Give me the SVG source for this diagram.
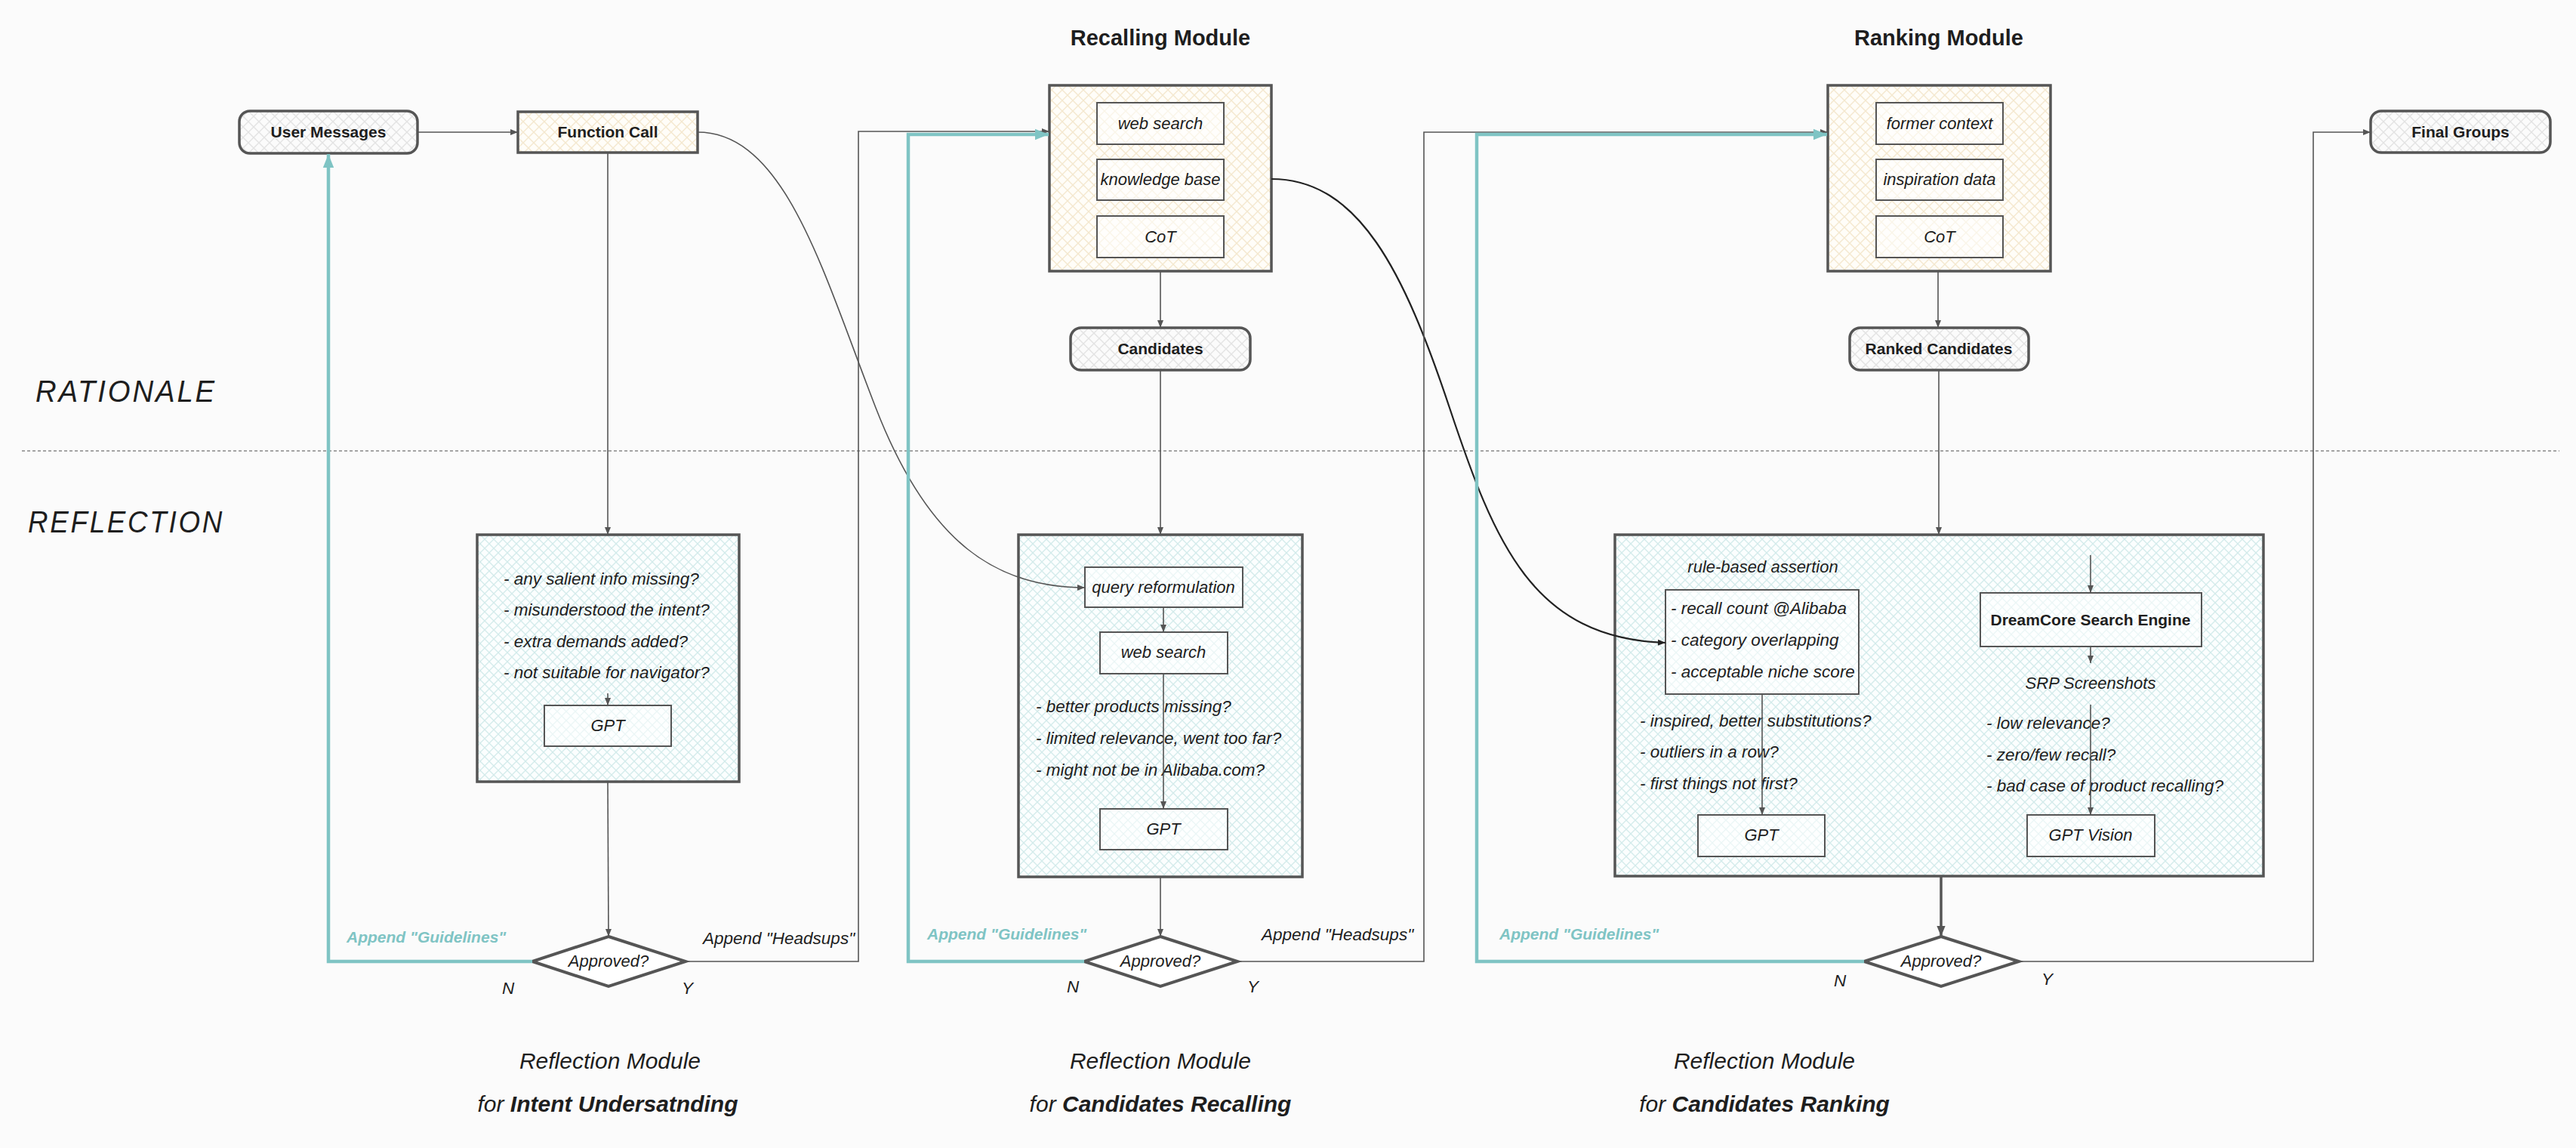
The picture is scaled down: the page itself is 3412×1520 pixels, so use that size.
<svg xmlns="http://www.w3.org/2000/svg" width="3412" height="1520" viewBox="0 0 3412 1520">
<style>
text{font-family:"Liberation Sans",Arial,sans-serif;fill:#1e1e1e}
.lbl{font-size:21px;font-weight:bold;text-anchor:middle}
.t{font-size:22.5px;font-style:italic}
.tc{font-size:22px;font-style:italic;text-anchor:middle}
.title{font-size:29px;font-weight:bold;text-anchor:middle}
.side{font-size:40px;font-style:italic;letter-spacing:3px}
.foot{font-size:30px;font-style:italic;text-anchor:middle}
.teal{fill:#7fc4c4;font-weight:bold;font-size:21px;font-style:italic}
.box{stroke:#555;stroke-width:3.5}
.inner{stroke:#555;stroke-width:2;fill:#ffffff;fill-opacity:0.55}
.c{fill:none;stroke:#555;stroke-width:1.6}
.ct{fill:none;stroke:#7fc4c4;stroke-width:4.5}
.dia{fill:#ffffff;stroke:#555;stroke-width:4}
</style>
<defs>
<pattern id="hg" width="14" height="14" patternUnits="userSpaceOnUse"><rect width="14" height="14" fill="#fbfbfb"/><path d="M0,0 L14,14 M14,0 L0,14" stroke="#e3e3e3" stroke-width="1.4"/></pattern>
<pattern id="hb" width="14" height="14" patternUnits="userSpaceOnUse"><rect width="14" height="14" fill="#fffdf8"/><path d="M0,0 L14,14 M14,0 L0,14" stroke="#f4e8cf" stroke-width="1.4"/></pattern>
<pattern id="ht" width="12" height="12" patternUnits="userSpaceOnUse"><rect width="12" height="12" fill="#fbfefe"/><path d="M0,0 L12,12 M12,0 L0,12" stroke="#d3ebeb" stroke-width="1.3"/></pattern>
<marker id="ag" viewBox="0 0 10 10" refX="10" refY="5" markerWidth="13" markerHeight="10" markerUnits="userSpaceOnUse" orient="auto"><path d="M0,1 L10,5 L0,9 z" fill="#555"/></marker>
<marker id="agb" viewBox="0 0 10 10" refX="10" refY="5" markerWidth="18" markerHeight="14" markerUnits="userSpaceOnUse" orient="auto"><path d="M0,1 L10,5 L0,9 z" fill="#555"/></marker>
<marker id="ak" viewBox="0 0 10 10" refX="10" refY="5" markerWidth="13" markerHeight="10" markerUnits="userSpaceOnUse" orient="auto"><path d="M0,1 L10,5 L0,9 z" fill="#222"/></marker>
<marker id="at" viewBox="0 0 10 10" refX="10" refY="5" markerWidth="22" markerHeight="18" markerUnits="userSpaceOnUse" orient="auto"><path d="M0,1 L10,5 L0,9 z" fill="#7fc4c4"/></marker>
</defs>
<rect width="3412" height="1520" fill="#fbfbfb"/>

<g id="section-labels">
<text class="side" x="47" y="532" textLength="240" lengthAdjust="spacingAndGlyphs">RATIONALE</text>
<text class="side" x="37" y="705" textLength="260" lengthAdjust="spacingAndGlyphs">REFLECTION</text>
<line x1="29" y1="597" x2="3390" y2="597" stroke="#888" stroke-width="1.5" stroke-dasharray="4 3"/>
<text class="title" x="1537" y="60">Recalling Module</text>
<text class="title" x="2568" y="60">Ranking Module</text>
<text class="foot" x="808" y="1415">Reflection Module</text>
<text class="foot" x="805" y="1472">for <tspan font-weight="bold">Intent Undersatnding</tspan></text>
<text class="foot" x="1537" y="1415">Reflection Module</text>
<text class="foot" x="1537" y="1472">for <tspan font-weight="bold">Candidates Recalling</tspan></text>
<text class="foot" x="2337" y="1415">Reflection Module</text>
<text class="foot" x="2337" y="1472">for <tspan font-weight="bold">Candidates Ranking</tspan></text>
</g>

<g id="user-messages">
<rect class="box" x="317" y="147" width="236" height="56" rx="14" fill="url(#hg)"/>
<text class="lbl" x="435" y="182">User Messages</text>
</g>
<g id="function-call">
<rect class="box" x="686" y="148" width="238" height="54" fill="url(#hb)"/>
<text class="lbl" x="805" y="182">Function Call</text>
</g>
<g id="final-groups">
<rect class="box" x="3140" y="147" width="238" height="55" rx="14" fill="url(#hg)"/>
<text class="lbl" x="3259" y="182">Final Groups</text>
</g>

<g id="recalling-module">
<rect class="box" x="1390" y="113" width="294" height="246" fill="url(#hb)"/>
<rect class="inner" x="1453" y="136" width="168" height="55"/>
<text class="tc" x="1537" y="171">web search</text>
<rect class="inner" x="1453" y="211" width="168" height="54"/>
<text class="tc" x="1537" y="245">knowledge base</text>
<rect class="inner" x="1453" y="286" width="168" height="55"/>
<text class="tc" x="1537" y="321">CoT</text>
</g>
<g id="candidates">
<rect class="box" x="1418" y="434" width="238" height="56" rx="14" fill="url(#hg)"/>
<text class="lbl" x="1537" y="469">Candidates</text>
</g>

<g id="ranking-module">
<rect class="box" x="2421" y="113" width="295" height="246" fill="url(#hb)"/>
<rect class="inner" x="2485" y="136" width="168" height="55"/>
<text class="tc" x="2569" y="171">former context</text>
<rect class="inner" x="2485" y="211" width="168" height="54"/>
<text class="tc" x="2569" y="245">inspiration data</text>
<rect class="inner" x="2485" y="286" width="168" height="55"/>
<text class="tc" x="2569" y="321">CoT</text>
</g>
<g id="ranked-candidates">
<rect class="box" x="2450" y="434" width="237" height="56" rx="14" fill="url(#hg)"/>
<text class="lbl" x="2568" y="469">Ranked Candidates</text>
</g>

<g id="reflection-intent">
<rect class="box" x="632" y="708" width="347" height="327" fill="url(#ht)"/>
<text class="t" x="667" y="774">- any salient info missing?</text>
<text class="t" x="667" y="815">- misunderstood the intent?</text>
<text class="t" x="667" y="857">- extra demands added?</text>
<text class="t" x="667" y="898">- not suitable for navigator?</text>
<rect class="inner" x="721" y="934" width="168" height="54"/>
<text class="tc" x="805" y="968">GPT</text>
</g>

<g id="reflection-recalling">
<rect class="box" x="1349" y="708" width="376" height="453" fill="url(#ht)"/>
<rect class="inner" x="1437" y="751" width="209" height="53"/>
<text class="tc" x="1541" y="785">query reformulation</text>
<rect class="inner" x="1457" y="837" width="169" height="55"/>
<text class="tc" x="1541" y="871">web search</text>
<text class="t" x="1372" y="943">- better products missing?</text>
<text class="t" x="1372" y="985">- limited relevance, went too far?</text>
<text class="t" x="1372" y="1027">- might not be in Alibaba.com?</text>
<rect class="inner" x="1457" y="1071" width="169" height="54"/>
<text class="tc" x="1541" y="1105">GPT</text>
</g>

<g id="reflection-ranking">
<rect class="box" x="2139" y="708" width="859" height="452" fill="url(#ht)"/>
<text class="tc" x="2335" y="758">rule-based assertion</text>
<rect class="inner" x="2206" y="781" width="256" height="138"/>
<text class="t" x="2213" y="813">- recall count @Alibaba</text>
<text class="t" x="2213" y="855">- category overlapping</text>
<text class="t" x="2213" y="897">- acceptable niche score</text>
<text class="t" x="2172" y="962">- inspired, better substitutions?</text>
<text class="t" x="2172" y="1003">- outliers in a row?</text>
<text class="t" x="2172" y="1045">- first things not first?</text>
<rect class="inner" x="2249" y="1079" width="168" height="55"/>
<text class="tc" x="2333" y="1113">GPT</text>
<rect class="inner" x="2623" y="785" width="293" height="71"/>
<text class="lbl" x="2769" y="828">DreamCore Search Engine</text>
<text class="tc" x="2769" y="912">SRP Screenshots</text>
<text class="t" x="2631" y="965">- low relevance?</text>
<text class="t" x="2631" y="1007">- zero/few recall?</text>
<text class="t" x="2631" y="1048">- bad case of product recalling?</text>
<rect class="inner" x="2685" y="1079" width="169" height="55"/>
<text class="tc" x="2769" y="1113">GPT Vision</text>
</g>

<g id="decision-intent">
<path class="dia" d="M806,1240 L908,1273 L806,1306 L705,1273 Z"/>
<text class="tc" x="806" y="1280">Approved?</text>
</g>
<g id="decision-recalling">
<path class="dia" d="M1537,1240 L1639,1273 L1537,1306 L1436,1273 Z"/>
<text class="tc" x="1537" y="1280">Approved?</text>
</g>
<g id="decision-ranking">
<path class="dia" d="M2571,1240 L2674,1273 L2571,1306 L2469,1273 Z"/>
<text class="tc" x="2571" y="1280">Approved?</text>
</g>

<g id="connectors">
<line class="c" x1="553" y1="175" x2="686" y2="175" marker-end="url(#ag)"/>
<line class="c" x1="805" y1="202" x2="805" y2="708" marker-end="url(#ag)"/>
<path class="c" d="M924,175 C1040,175 1090,360 1160,540 C1230,720 1320,778 1437,778" marker-end="url(#ag)"/>
<line class="c" x1="1537" y1="359" x2="1537" y2="434" marker-end="url(#ag)"/>
<line class="c" x1="1537" y1="490" x2="1537" y2="708" marker-end="url(#ag)"/>
<path fill="none" stroke="#222" stroke-width="2.2" d="M1684,237 C1800,237 1860,360 1920,540 C1980,720 2030,845 2206,851" marker-end="url(#ak)"/>
<line class="c" x1="2567" y1="359" x2="2567" y2="434" marker-end="url(#ag)"/>
<line class="c" x1="2568" y1="490" x2="2568" y2="708" marker-end="url(#ag)"/>
<line class="c" x1="805" y1="918" x2="805" y2="934" marker-end="url(#ag)"/>
<line class="c" x1="1541" y1="804" x2="1541" y2="837" marker-end="url(#ag)"/>
<line class="c" x1="1541" y1="892" x2="1541" y2="1071" marker-end="url(#ag)"/>
<line class="c" x1="2334" y1="919" x2="2334" y2="1079" marker-end="url(#ag)"/>
<line class="c" x1="2769" y1="735" x2="2769" y2="785" marker-end="url(#ag)"/>
<line class="c" x1="2769" y1="856" x2="2769" y2="878" marker-end="url(#ag)"/>
<line class="c" x1="2769" y1="933" x2="2769" y2="1079" marker-end="url(#ag)"/>
<line class="c" x1="805" y1="1035" x2="806" y2="1240" marker-end="url(#ag)"/>
<line class="c" x1="1537" y1="1161" x2="1537" y2="1240" marker-end="url(#ag)"/>
<line fill="none" stroke="#555" stroke-width="3.5" x1="2571" y1="1160" x2="2571" y2="1240" marker-end="url(#agb)"/>
<polyline class="c" points="908,1273 1137,1273 1137,174 1390,174" marker-end="url(#ag)"/>
<polyline class="c" points="1639,1273 1886,1273 1886,175 2421,175" marker-end="url(#ag)"/>
<polyline class="c" points="2674,1273 3064,1273 3064,175 3140,175" marker-end="url(#ag)"/>
<polyline class="ct" points="705,1273 435,1273 435,204" marker-end="url(#at)"/>
<polyline class="ct" points="1436,1273 1203,1273 1203,178 1389,178" marker-end="url(#at)"/>
<polyline class="ct" points="2469,1273 1956,1273 1956,178 2420,178" marker-end="url(#at)"/>
<text class="teal" x="459" y="1248">Append "Guidelines"</text>
<text class="t" x="931" y="1250">Append "Headsups"</text>
<text class="t" x="665" y="1316">N</text>
<text class="t" x="903" y="1316">Y</text>
<text class="teal" x="1228" y="1244">Append "Guidelines"</text>
<text class="t" x="1671" y="1245">Append "Headsups"</text>
<text class="t" x="1413" y="1314">N</text>
<text class="t" x="1652" y="1314">Y</text>
<text class="teal" x="1986" y="1244">Append "Guidelines"</text>
<text class="t" x="2429" y="1306">N</text>
<text class="t" x="2704" y="1304">Y</text>
</g>
</svg>
